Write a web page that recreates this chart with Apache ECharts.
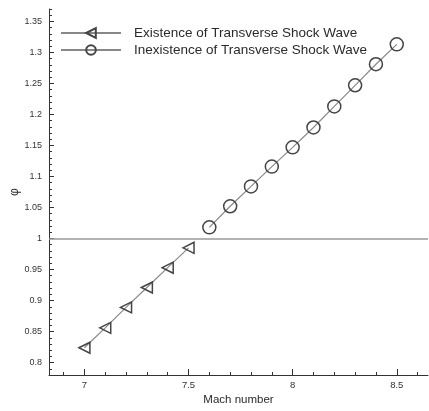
<!DOCTYPE html>
<html>
<head>
<meta charset="utf-8">
<script src="https://cdn.jsdelivr.net/npm/echarts@6/dist/echarts.min.js"></script>
<style>
  html, body { margin: 0; padding: 0; background: #fff; }
  #chart { width: 429px; height: 411px; }
</style>
</head>
<body>
<div id="chart"></div>
<script>
// values
const withShockX = [7.0, 7.1, 7.2, 7.3, 7.4, 7.5]
const withShockY = [0.824, 0.856, 0.889, 0.921, 0.953, 0.985]
const noShockX = [7.6, 7.7, 7.8, 7.9, 8.0, 8.1, 8.2, 8.3, 8.4, 8.5]
const noShockY = [1.018, 1.052, 1.084, 1.116, 1.147, 1.179, 1.213, 1.247, 1.281, 1.313]

const xTicks = [7, 7.5, 8, 8.5]
const yTicks = [0.8, 0.85, 0.9, 0.95, 1, 1.05, 1.1, 1.15, 1.2, 1.25, 1.3, 1.35]

const xMin = 6.83, xMax = 8.65
const yMin = 0.78, yMax = 1.37

// minor tick positions
const xMinor = []
for (let i = 69; i <= 86; i++) xMinor.push(i / 10)
const yMinor = []
for (let i = 78; i <= 137; i++) yMinor.push(i / 100)

const font = 'Liberation Sans, Arial, sans-serif'
const axisColor = '#333'

const chart = echarts.init(document.getElementById('chart'))

const option = {
  backgroundColor: '#fff',
  animation: false,
  grid: { left: 49, top: 9, width: 379, height: 366, outerBoundsMode: 'none', containLabel: false },
  legend: {
    orient: 'vertical',
    left: 55,
    top: 21,
    itemWidth: 60,
    itemHeight: 12,
    itemGap: 3,
    textStyle: { fontFamily: font, fontSize: 13.5, color: '#2a2a2a', padding: [0, 0, 0, 8] },
    data: ['Existence of Transverse Shock Wave', 'Inexistence of Transverse Shock Wave']
  },
  xAxis: [{
    type: 'value',
    min: xMin,
    max: xMax,
    name: 'Mach number',
    nameLocation: 'middle',
    nameGap: 19,
    nameMoveOverlap: false,
    nameTextStyle: { fontFamily: font, fontSize: 11.5, color: '#2a2a2a' },
    axisLine: { lineStyle: { color: axisColor, width: 1 } },
    axisTick: { inside: true, length: 6, customValues: xTicks, lineStyle: { color: axisColor } },
    axisLabel: { customValues: xTicks, fontFamily: font, fontSize: 9.5, color: '#333', margin: 5 },
    splitLine: { show: false }
  }, {
    type: 'value',
    min: xMin,
    max: xMax,
    position: 'bottom',
    axisLine: { show: false },
    axisTick: { inside: true, length: 3, customValues: xMinor, lineStyle: { color: axisColor } },
    axisLabel: { show: false },
    splitLine: { show: false }
  }],
  yAxis: [{
    type: 'value',
    min: yMin,
    max: yMax,
    name: 'φ',
    nameLocation: 'middle',
    nameGap: 28,
    nameMoveOverlap: false,
    nameTextStyle: { fontFamily: font, fontSize: 12, color: '#2a2a2a' },
    axisLine: { show: true, lineStyle: { color: axisColor, width: 1 } },
    axisTick: { show: true, inside: true, length: 5, customValues: yTicks, lineStyle: { color: axisColor } },
    axisLabel: {
      customValues: yTicks,
      fontFamily: font,
      fontSize: 9,
      color: '#333',
      margin: 7,
      formatter: v => String(+v.toFixed(2))
    },
    splitLine: { show: false }
  }, {
    type: 'value',
    min: yMin,
    max: yMax,
    position: 'left',
    axisLine: { show: false },
    axisTick: { show: true, inside: true, length: 3, customValues: yMinor, lineStyle: { color: axisColor } },
    axisLabel: { show: false },
    splitLine: { show: false }
  }],
  series: [{
    name: 'Existence of Transverse Shock Wave',
    type: 'line',
    data: withShockX.map((x, i) => [x, withShockY[i]]),
    symbol: 'triangle',
    symbolRotate: 90,
    symbolSize: 11,
    lineStyle: { color: '#888', width: 1.2 },
    itemStyle: { color: 'rgba(255,255,255,0)', borderColor: '#444', borderWidth: 1.5 },
    markLine: {
      silent: true,
      symbol: 'none',
      label: { show: false },
      lineStyle: { color: '#999', width: 1.5, type: 'solid' },
      data: [{ yAxis: 1 }]
    }
  }, {
    name: 'Inexistence of Transverse Shock Wave',
    type: 'line',
    data: noShockX.map((x, i) => [x, noShockY[i]]),
    symbol: 'circle',
    symbolSize: 13,
    lineStyle: { color: '#888', width: 1.2 },
    itemStyle: { color: 'rgba(255,255,255,0)', borderColor: '#444', borderWidth: 1.5 }
  }]
}

chart.setOption(option)
</script>
</body>
</html>
